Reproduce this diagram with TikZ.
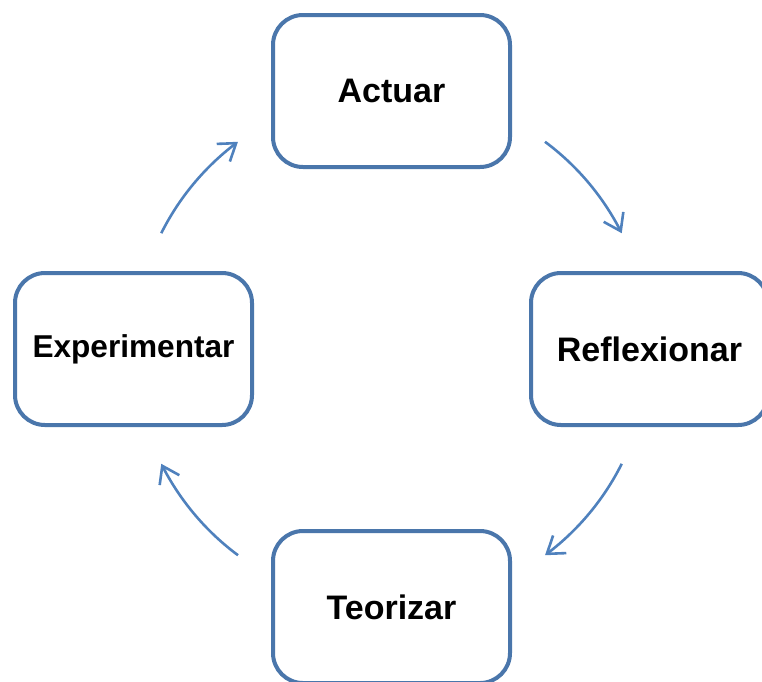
\documentclass[tikz,border=0pt]{standalone}
\usepackage{fontspec}
\setmainfont{Liberation Sans}
\usetikzlibrary{arrows.meta,bending}
\definecolor{boxblue}{HTML}{4A76AB}
\definecolor{arrblue}{HTML}{4F81BD}
\begin{document}
\begin{tikzpicture}[x=1pt,y=1pt,
  stagebox/.style={draw=boxblue,line width=4pt,rounded corners=30pt,fill=white,
    minimum width=237pt,minimum height=152pt,inner sep=0pt,
    font=\fontsize{34}{40}\selectfont\bfseries,text=black},
  smalltext/.style={font=\fontsize{31.6}{38}\selectfont\bfseries},
  cyc/.style={draw=arrblue,line width=2.6pt,
    -{Straight Barb[length=16pt,width=22pt,line width=2.6pt,flex]}}]
\useasboundingbox (0,0) rectangle (762,-681);
\clip (0,0) rectangle (762,-681);
\node[stagebox] (act) at (391.5,-91) {Actuar};
\node[stagebox] (ref) at (649.5,-349) {Reflexionar};
\node[stagebox] (teo) at (391.5,-607) {Teorizar};
\node[stagebox,smalltext] (exp) at (133.5,-349) {Experimentar};
\coordinate (c) at (391.5,-348.5);
\coordinate (s1) at ([shift={(53.4:257.5)}]c);
\coordinate (s2) at ([shift={(-26.6:257.5)}]c);
\coordinate (s3) at ([shift={(-126.6:257.5)}]c);
\coordinate (s4) at ([shift={(153.4:257.5)}]c);
\draw[cyc] (s1) arc[start angle=53.4,end angle=26.6,radius=257.5];
\draw[cyc] (s2) arc[start angle=-26.6,end angle=-53.4,radius=257.5];
\draw[cyc] (s3) arc[start angle=-126.6,end angle=-153.4,radius=257.5];
\draw[cyc] (s4) arc[start angle=153.4,end angle=126.6,radius=257.5];
\end{tikzpicture}
\end{document}
